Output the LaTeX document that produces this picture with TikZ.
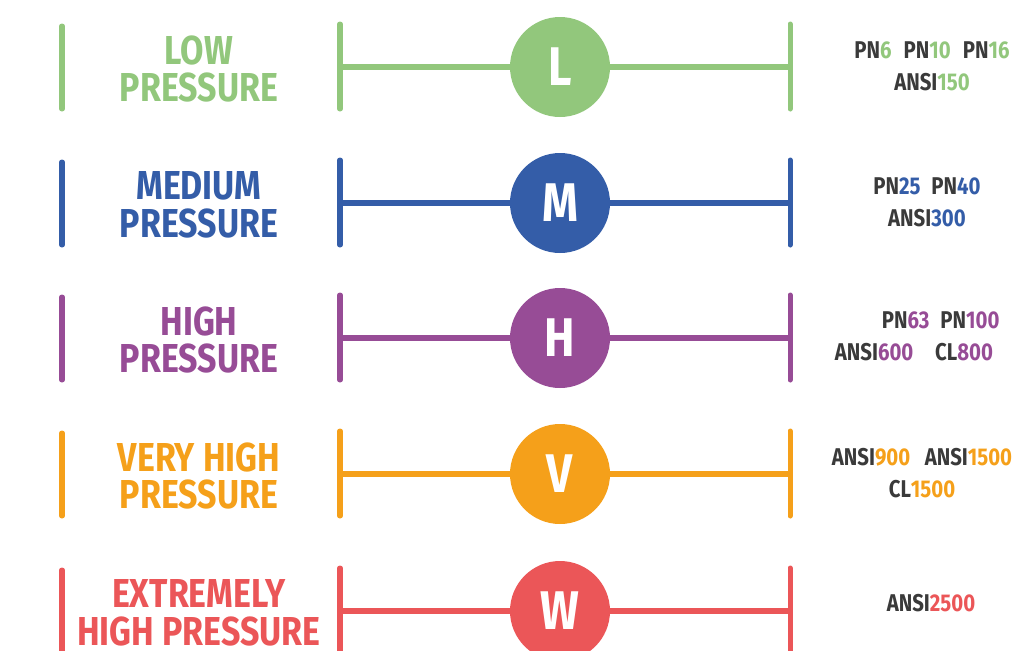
\documentclass[tikz,border=0pt]{standalone}
\usepackage{fontspec}
\setmainfont{Fira Sans}[FakeStretch=0.84,UprightFont=* Bold,BoldFont=* Bold]
\definecolor{lowgreen}{HTML}{92C77C}
\definecolor{medblue}{HTML}{345DA8}
\definecolor{highpurple}{HTML}{974C96}
\definecolor{vhorange}{HTML}{F5A01A}
\definecolor{exred}{HTML}{EB5658}
\definecolor{ratedark}{HTML}{3A3A3A}
\tikzset{
  bar/.style={line width=2.85pt, line cap=round},
  link/.style={line width=3pt},
  badge/.style={circle, minimum size=100*0.02cm, inner sep=0pt, text=white,
    font=\fontsize{31}{31}\selectfont},
  classlabel/.style={align=center, font=\fontsize{23}{21.5}\selectfont},
  ratelabel/.style={align=center, text=ratedark, font=\fontsize{13.8}{18}\selectfont}
}
\begin{document}
\begin{tikzpicture}[x=0.02cm,y=-0.02cm]
\useasboundingbox (0,0) rectangle (1018,650);
\foreach \y/\col/\tag/\name/\rates/\rx/\ry in {
    67/lowgreen/L/{LOW\\PRESSURE}/{PN\textcolor{lowgreen}{6}\hspace{0.5em}PN\textcolor{lowgreen}{10}\hspace{0.5em}PN\textcolor{lowgreen}{16}\\ANSI\textcolor{lowgreen}{150}}/932/66,
    203/medblue/M/{MEDIUM\\PRESSURE}/{PN\textcolor{medblue}{25}\hspace{0.45em}PN\textcolor{medblue}{40}\\ANSI\textcolor{medblue}{300}}/927/202,
    338/highpurple/H/{HIGH\\PRESSURE}/{\hspace{2.2em}PN\textcolor{highpurple}{63}\hspace{0.45em}PN\textcolor{highpurple}{100}\\ANSI\textcolor{highpurple}{600}\hspace{0.9em}CL\textcolor{highpurple}{800}}/914/336,
    474/vhorange/V/{VERY HIGH\\PRESSURE}/{ANSI\textcolor{vhorange}{900}\hspace{0.6em}ANSI\textcolor{vhorange}{1500}\\CL\textcolor{vhorange}{1500}}/922/473,
    611/exred/W/{EXTREMELY\\HIGH PRESSURE}/{ANSI\textcolor{exred}{2500}}/931/603}{
  % tick marks of the row
  \coordinate (lt\tag) at (62,\y-41);
  \coordinate (lb\tag) at (62,\y+42);
  \coordinate (a\tag) at (340,\y);
  \coordinate (b\tag) at (790,\y);
  \draw[bar,\col] (lt\tag) -- (lb\tag);
  \draw[bar,\col] ([yshift=-0.02cm*42]a\tag) -- ([yshift=0.02cm*43]a\tag);
  \draw[bar,\col] ([yshift=-0.02cm*42]b\tag) -- ([yshift=0.02cm*43]b\tag);
  \node[badge, fill=\col] (c\tag) at (560,\y) {\tag};
  \draw[link,\col] (a\tag) -- (c\tag);
  \draw[link,\col] (c\tag) -- (b\tag);
  \node[classlabel, text=\col] (n\tag) at (199,\y+2) {\name};
  \node[ratelabel] (r\tag) at (\rx,\ry) {\rates};
}
\end{tikzpicture}
\end{document}
